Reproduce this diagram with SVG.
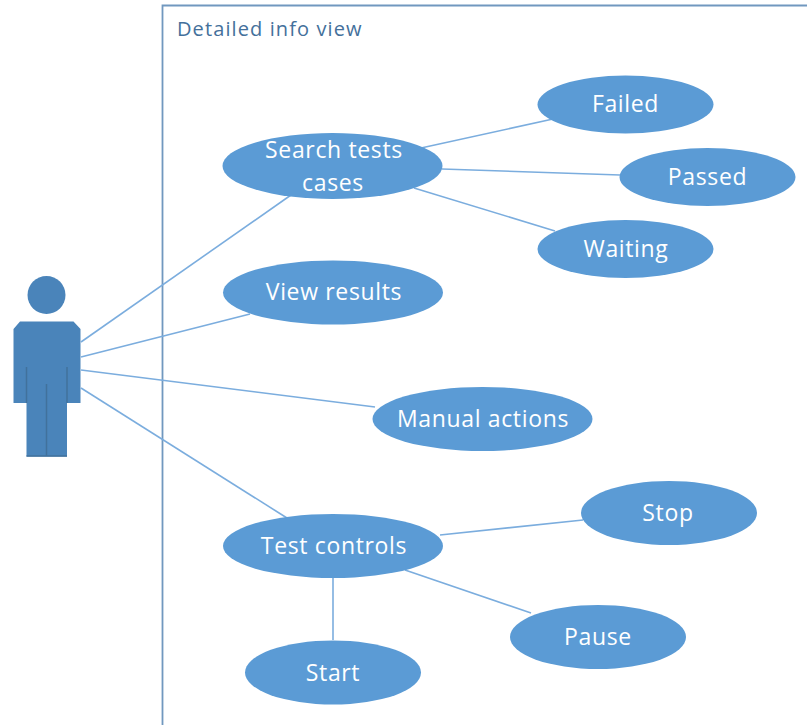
<svg xmlns="http://www.w3.org/2000/svg" width="807" height="725" viewBox="0 0 807 725">
<style>
text{font-family:"Open Sans","Noto Sans","DejaVu Sans",sans-serif}
.uc{fill:#5b9bd5}
.lb{fill:#fff;font-size:23px;text-anchor:middle;letter-spacing:.65px}
.ln{stroke:#7badde;stroke-width:1.6;fill:none}
.body{fill:#4a84ba}
.seam{stroke:#41719c;stroke-width:1.5;fill:none}
</style>
<rect width="807" height="725" fill="#fff"/>
<g id="frame"><path d="M162.500 725V5.500H807" fill="none" stroke="#7198bf" stroke-width="1.800"/><text x="177" y="36" font-size="20" letter-spacing="1.100" fill="#44709b">Detailed info view</text></g>
<g id="connectors" class="ln">
<line x1="81" y1="342" x2="291" y2="195"/>
<line x1="81" y1="357" x2="250" y2="314"/>
<line x1="81" y1="370" x2="375" y2="407"/>
<line x1="81" y1="388" x2="287" y2="518"/>
<line x1="421" y1="148" x2="553" y2="119"/>
<line x1="442" y1="169" x2="620" y2="175"/>
<line x1="414" y1="188" x2="555" y2="231"/>
<line x1="440" y1="535" x2="583" y2="520"/>
<line x1="405" y1="570" x2="531" y2="613"/>
<line x1="333" y1="578" x2="333" y2="640"/>
</g>
<g id="actor"><circle cx="46.500" cy="295" r="19" class="body"/><path class="body" d="M20 321.500H73.500L80.500 329V403H67V456.500H26.500V403H13.500V329Z"/><path class="seam" d="M26.500 367V403M67 367V403M46.500 384V456M26.500 456H67"/></g>
<g id="search"><ellipse class="uc" cx="332.500" cy="166" rx="110" ry="33"/><text class="lb" x="334" y="158">Search tests</text><text class="lb" x="333" y="191">cases</text></g>
<g id="failed"><ellipse class="uc" cx="625.500" cy="104.500" rx="88" ry="29"/><text class="lb" x="625.500" y="112">Failed</text></g>
<g id="passed"><ellipse class="uc" cx="707.500" cy="177" rx="88" ry="29"/><text class="lb" x="707.500" y="185">Passed</text></g>
<g id="waiting"><ellipse class="uc" cx="625.500" cy="249" rx="88" ry="29"/><text class="lb" x="626" y="257">Waiting</text></g>
<g id="view"><ellipse class="uc" cx="333" cy="292.500" rx="110" ry="32"/><text class="lb" x="334" y="300">View results</text></g>
<g id="manual"><ellipse class="uc" cx="482.500" cy="419" rx="110" ry="32"/><text class="lb" x="483" y="427">Manual actions</text></g>
<g id="controls"><ellipse class="uc" cx="333" cy="546" rx="110" ry="32"/><text class="lb" x="334" y="554">Test controls</text></g>
<g id="stop"><ellipse class="uc" cx="669" cy="513" rx="88" ry="32"/><text class="lb" x="668" y="521">Stop</text></g>
<g id="pause"><ellipse class="uc" cx="598" cy="637" rx="88" ry="32"/><text class="lb" x="598" y="645">Pause</text></g>
<g id="start"><ellipse class="uc" cx="333" cy="672.500" rx="88" ry="32"/><text class="lb" x="333" y="681">Start</text></g>
</svg>
